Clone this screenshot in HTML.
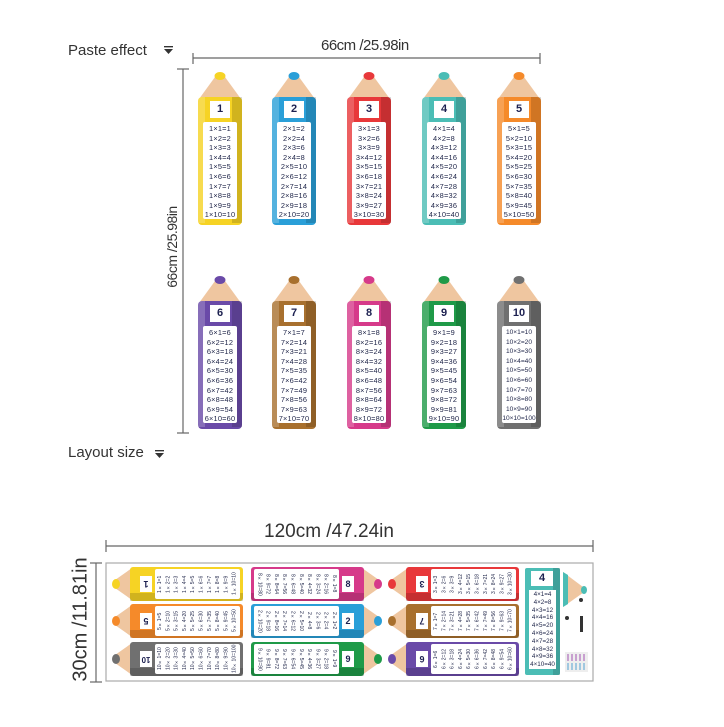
<!DOCTYPE html>
<html><head><meta charset="utf-8"><style>
body{margin:0;width:724px;height:727px;background:#fff;position:relative;overflow:hidden;font-family:"Liberation Sans",sans-serif;}
.a{position:absolute;}
.tt{position:absolute;width:34px;text-align:center;font-size:7.4px;letter-spacing:0.2px;line-height:9.6px;color:#1e2448;white-space:nowrap;}
.lb{position:absolute;width:20px;text-align:center;font-size:11px;font-weight:bold;color:#1c2050;line-height:17px;}
.bt{position:absolute;width:83px;height:30px;font-size:5px;line-height:8.3px;color:#1e2448;white-space:nowrap;text-align:center;writing-mode:vertical-rl;}
.bl{transform:rotate(180deg);}
.bn{position:absolute;width:12px;height:16px;font-size:9px;font-weight:bold;color:#1c2050;text-align:center;line-height:16px;}
</style></head><body>
<svg class="a" style="left:0;top:0" width="724" height="727">
<defs>
<g id="vp">
<polygon points="-5,6 5,6 21,28 -21,28" fill="#efc6a0"/>
<ellipse cx="0" cy="5" rx="5.5" ry="4"/>
<rect x="-22" y="26" width="44" height="128" rx="4"/>
<rect x="12" y="26" width="10" height="126" fill="#000" opacity=".15"/>
<rect x="-22" y="26" width="7" height="126" fill="#fff" opacity=".2"/>
<rect x="-10" y="30" width="20" height="17" fill="#fff"/>
<rect x="-17" y="51" width="34" height="97" rx="2" fill="#fff"/>
</g>
<g id="hp">
<polygon points="3,-4 3,4 20,16 20,-16" fill="#efc6a0"/>
<ellipse cx="4" cy="0" rx="4" ry="5"/>
<rect x="18" y="-17" width="113" height="34" rx="3"/>
<rect x="18" y="9" width="113" height="8" fill="#000" opacity=".15"/>
<rect x="28" y="-8" width="12" height="16" fill="#fff"/>
<rect x="43" y="-15" width="85" height="30" rx="2" fill="#fff"/>
</g>
</defs>
<g stroke="#666" stroke-width="1.2" fill="none">
<line x1="193" y1="58" x2="540" y2="58"/><line x1="193" y1="53" x2="193" y2="64"/><line x1="540" y1="53" x2="540" y2="64"/>
<line x1="183" y1="69" x2="183" y2="433"/><line x1="177" y1="69" x2="189" y2="69"/><line x1="177" y1="433" x2="189" y2="433"/>
<line x1="106" y1="546" x2="593" y2="546"/><line x1="106" y1="540" x2="106" y2="552"/><line x1="593" y1="540" x2="593" y2="552"/>
<line x1="96" y1="563" x2="96" y2="682"/><line x1="90" y1="563" x2="102" y2="563"/><line x1="90" y1="682" x2="102" y2="682"/>
<rect x="106" y="563" width="487" height="118" stroke="#aaa"/>
</g>
<use href="#vp" x="220" y="71" fill="#f6d324"/>
<use href="#vp" x="294" y="71" fill="#2a9fd8"/>
<use href="#vp" x="369" y="71" fill="#e8383a"/>
<use href="#vp" x="444" y="71" fill="#4bbdb5"/>
<use href="#vp" x="519" y="71" fill="#f58a2a"/>
<use href="#vp" x="220" y="275" fill="#6a4aa8"/>
<use href="#vp" x="294" y="275" fill="#a8702e"/>
<use href="#vp" x="369" y="275" fill="#d63a8a"/>
<use href="#vp" x="444" y="275" fill="#1f9a48"/>
<use href="#vp" x="519" y="275" fill="#707070"/>
<use href="#hp" x="112" y="584" fill="#f6d324"/>
<use href="#hp" x="112" y="621" fill="#f58a2a"/>
<use href="#hp" x="112" y="659" fill="#707070"/>
<g transform="translate(382,584) scale(-1,1)"><use href="#hp" fill="#d63a8a"/></g>
<g transform="translate(382,621) scale(-1,1)"><use href="#hp" fill="#2a9fd8"/></g>
<g transform="translate(382,659) scale(-1,1)"><use href="#hp" fill="#1f9a48"/></g>
<use href="#hp" x="388" y="584" fill="#e8383a"/>
<use href="#hp" x="388" y="621" fill="#a8702e"/>
<use href="#hp" x="388" y="659" fill="#6a4aa8"/>
<rect x="525" y="568" width="35" height="107" rx="2" fill="#4bbdb5"/>
<rect x="553" y="568" width="7" height="107" fill="#000" opacity=".15"/>
<rect x="531" y="571" width="22" height="15" fill="#fff"/>
<rect x="529" y="590" width="27" height="79" fill="#fff"/>
<polygon points="563,572 563,607 587,590" fill="#efc6a0"/>
<polygon points="563,572 563,607 568,604 568,575" fill="#4bbdb5"/>
<ellipse cx="584" cy="590" rx="3" ry="4" fill="#4bbdb5"/>
<circle cx="581" cy="600" r="2" fill="#333"/><circle cx="567" cy="618" r="2" fill="#333"/>
<rect x="580" y="616" width="3" height="16" fill="#333"/>
<rect x="565" y="652" width="23" height="20" fill="#eee"/>
<g fill="#c8a0d0"><rect x="567" y="654" width="2" height="7"/><rect x="571" y="654" width="2" height="7"/><rect x="575" y="654" width="2" height="7"/><rect x="579" y="654" width="2" height="7"/><rect x="583" y="654" width="2" height="7"/></g>
<g fill="#a0c8e0"><rect x="567" y="663" width="2" height="7"/><rect x="571" y="663" width="2" height="7"/><rect x="575" y="663" width="2" height="7"/><rect x="579" y="663" width="2" height="7"/><rect x="583" y="663" width="2" height="7"/></g>
<path d="M164 49h9l-4.5 5z M164 46h9v1.4h-9z M155 453h9l-4.5 5z M155 450h9v1.4h-9z" fill="#333"/>
</svg>

<div class="a" style="left:68px;top:42px;font-size:15px;color:#333">Paste effect</div>
<div class="a" style="left:321px;top:37px;font-size:15px;color:#333;letter-spacing:-0.5px">66cm /25.98in</div>
<div class="a" style="left:122px;top:239px;width:100px;text-align:center;font-size:14px;color:#333;letter-spacing:-0.5px;transform:rotate(-90deg)">66cm /25.98in</div>
<div class="a" style="left:68px;top:444px;font-size:15px;color:#333">Layout size</div>
<div class="a" style="left:264px;top:521px;font-size:19px;color:#333">120cm /47.24in</div>
<div class="a" style="left:6px;top:608px;width:150px;text-align:center;font-size:20px;color:#333;transform:rotate(-90deg)">30cm /11.81in</div>

<div class="lb" style="left:210px;top:101px">1</div>
<div class="lb" style="left:284px;top:101px">2</div>
<div class="lb" style="left:359px;top:101px">3</div>
<div class="lb" style="left:434px;top:101px">4</div>
<div class="lb" style="left:509px;top:101px">5</div>
<div class="lb" style="left:210px;top:305px">6</div>
<div class="lb" style="left:284px;top:305px">7</div>
<div class="lb" style="left:359px;top:305px">8</div>
<div class="lb" style="left:434px;top:305px">9</div>
<div class="lb" style="left:509px;top:305px">10</div>

<div class="tt" style="left:203px;top:124px">1×1=1<br>1×2=2<br>1×3=3<br>1×4=4<br>1×5=5<br>1×6=6<br>1×7=7<br>1×8=8<br>1×9=9<br>1×10=10</div>
<div class="tt" style="left:277px;top:124px">2×1=2<br>2×2=4<br>2×3=6<br>2×4=8<br>2×5=10<br>2×6=12<br>2×7=14<br>2×8=16<br>2×9=18<br>2×10=20</div>
<div class="tt" style="left:352px;top:124px">3×1=3<br>3×2=6<br>3×3=9<br>3×4=12<br>3×5=15<br>3×6=18<br>3×7=21<br>3×8=24<br>3×9=27<br>3×10=30</div>
<div class="tt" style="left:427px;top:124px">4×1=4<br>4×2=8<br>4×3=12<br>4×4=16<br>4×5=20<br>4×6=24<br>4×7=28<br>4×8=32<br>4×9=36<br>4×10=40</div>
<div class="tt" style="left:502px;top:124px">5×1=5<br>5×2=10<br>5×3=15<br>5×4=20<br>5×5=25<br>5×6=30<br>5×7=35<br>5×8=40<br>5×9=45<br>5×10=50</div>
<div class="tt" style="left:203px;top:328px">6×1=6<br>6×2=12<br>6×3=18<br>6×4=24<br>6×5=30<br>6×6=36<br>6×7=42<br>6×8=48<br>6×9=54<br>6×10=60</div>
<div class="tt" style="left:277px;top:328px">7×1=7<br>7×2=14<br>7×3=21<br>7×4=28<br>7×5=35<br>7×6=42<br>7×7=49<br>7×8=56<br>7×9=63<br>7×10=70</div>
<div class="tt" style="left:352px;top:328px">8×1=8<br>8×2=16<br>8×3=24<br>8×4=32<br>8×5=40<br>8×6=48<br>8×7=56<br>8×8=64<br>8×9=72<br>8×10=80</div>
<div class="tt" style="left:427px;top:328px">9×1=9<br>9×2=18<br>9×3=27<br>9×4=36<br>9×5=45<br>9×6=54<br>9×7=63<br>9×8=72<br>9×9=81<br>9×10=90</div>
<div class="tt" style="left:502px;top:328px;font-size:6.6px;letter-spacing:0">10×1=10<br>10×2=20<br>10×3=30<br>10×4=40<br>10×5=50<br>10×6=60<br>10×7=70<br>10×8=80<br>10×9=90<br>10×10=100</div>

<div class="bn bl" style="left:140px;top:576px">1</div>
<div class="bn bl" style="left:140px;top:613px">5</div>
<div class="bn bl" style="left:140px;top:651px;font-size:8px">10</div>
<div class="bt bl" style="left:156px;top:569px">1×1=1<br>1×2=2<br>1×3=3<br>1×4=4<br>1×5=5<br>1×6=6<br>1×7=7<br>1×8=8<br>1×9=9<br>1×10=10</div>
<div class="bt bl" style="left:156px;top:606px">5×1=5<br>5×2=10<br>5×3=15<br>5×4=20<br>5×5=25<br>5×6=30<br>5×7=35<br>5×8=40<br>5×9=45<br>5×10=50</div>
<div class="bt bl" style="left:156px;top:644px">10×1=10<br>10×2=20<br>10×3=30<br>10×4=40<br>10×5=50<br>10×6=60<br>10×7=70<br>10×8=80<br>10×9=90<br>10×10=100</div>
<div class="bn" style="left:342px;top:576px">8</div>
<div class="bn" style="left:342px;top:613px">2</div>
<div class="bn" style="left:342px;top:651px">9</div>
<div class="bt" style="left:255px;top:569px">8×1=8<br>8×2=16<br>8×3=24<br>8×4=32<br>8×5=40<br>8×6=48<br>8×7=56<br>8×8=64<br>8×9=72<br>8×10=80</div>
<div class="bt" style="left:255px;top:606px">2×1=2<br>2×2=4<br>2×3=6<br>2×4=8<br>2×5=10<br>2×6=12<br>2×7=14<br>2×8=16<br>2×9=18<br>2×10=20</div>
<div class="bt" style="left:255px;top:644px">9×1=9<br>9×2=18<br>9×3=27<br>9×4=36<br>9×5=45<br>9×6=54<br>9×7=63<br>9×8=72<br>9×9=81<br>9×10=90</div>
<div class="bn bl" style="left:416px;top:576px">3</div>
<div class="bn bl" style="left:416px;top:613px">7</div>
<div class="bn bl" style="left:416px;top:651px">6</div>
<div class="bt bl" style="left:432px;top:569px">3×1=3<br>3×2=6<br>3×3=9<br>3×4=12<br>3×5=15<br>3×6=18<br>3×7=21<br>3×8=24<br>3×9=27<br>3×10=30</div>
<div class="bt bl" style="left:432px;top:606px">7×1=7<br>7×2=14<br>7×3=21<br>7×4=28<br>7×5=35<br>7×6=42<br>7×7=49<br>7×8=56<br>7×9=63<br>7×10=70</div>
<div class="bt bl" style="left:432px;top:644px">6×1=6<br>6×2=12<br>6×3=18<br>6×4=24<br>6×5=30<br>6×6=36<br>6×7=42<br>6×8=48<br>6×9=54<br>6×10=60</div>
<div class="a" style="left:531px;top:571px;width:22px;text-align:center;font-size:11px;font-weight:bold;color:#1c2050;line-height:15px">4</div>
<div class="a" style="left:529px;top:591px;width:27px;text-align:center;font-size:6.3px;line-height:7.8px;color:#1e2448;white-space:nowrap">4×1=4<br>4×2=8<br>4×3=12<br>4×4=16<br>4×5=20<br>4×6=24<br>4×7=28<br>4×8=32<br>4×9=36<br>4×10=40</div>
</body></html>
